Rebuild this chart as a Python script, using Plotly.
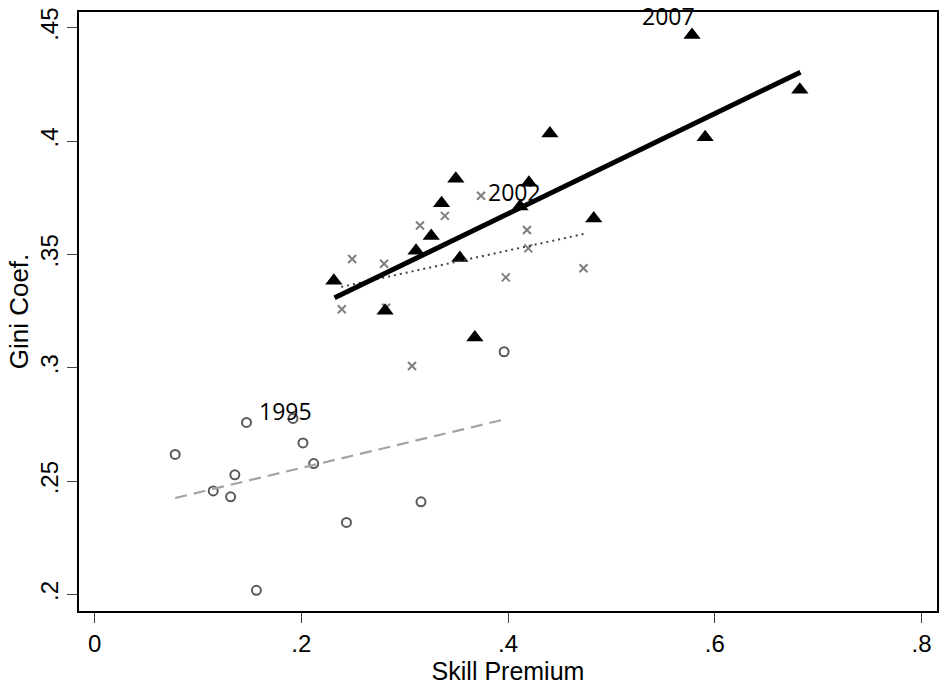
import plotly.graph_objects as go

# 1995 group (hollow circles)
x1995 = [0.078, 0.147, 0.192, 0.2016, 0.212, 0.1357, 0.1148, 0.1316, 0.2437, 0.3158, 0.1566, 0.3962]
y1995 = [0.2618, 0.2759, 0.2777, 0.2669, 0.2578, 0.2528, 0.2457, 0.2431, 0.2318, 0.2409, 0.2019, 0.3071]

# 2002 group (crosses)
x2002 = [0.2492, 0.2801, 0.2392, 0.2820, 0.3148, 0.3389, 0.3739, 0.4183, 0.4196, 0.3978, 0.4730, 0.3071]
y2002 = [0.3480, 0.3459, 0.3258, 0.3265, 0.3628, 0.3670, 0.3759, 0.3608, 0.3527, 0.3399, 0.3439, 0.3008]

# 2007 group (filled triangles)
x2007 = [0.2315, 0.2811, 0.3110, 0.3257, 0.3357, 0.3495, 0.3534, 0.3679, 0.4116, 0.4202, 0.4405, 0.4829, 0.5780, 0.5907, 0.6823]
y2007 = [0.3384, 0.3252, 0.3516, 0.3581, 0.3726, 0.3834, 0.3484, 0.3134, 0.3711, 0.3816, 0.4034, 0.3659, 0.4468, 0.4017, 0.4226]

# Linear fit endpoints
fit1995_x = [0.078, 0.3962]
fit1995_y = [0.2426, 0.2772]
fit2002_x = [0.2386, 0.4730]
fit2002_y = [0.3357, 0.3590]
fit2007_x = [0.2322, 0.6829]
fit2007_y = [0.3309, 0.4304]

# Year labels
label_text = ["1995", "2002", "2007"]
label_x = [0.1567, 0.3785, 0.5280]
label_y = [0.2809, 0.3774, 0.4553]

xtick_vals = [0, 0.2, 0.4, 0.6, 0.8]
xtick_text = ["0", ".2", ".4", ".6", ".8"]
ytick_vals = [0.2, 0.25, 0.3, 0.35, 0.4, 0.45]
ytick_text = [".2", ".25", ".3", ".35", ".4", ".45"]

fig = go.Figure()

fig.add_trace(go.Scatter(
    x=x1995, y=y1995, mode="markers", name="1995",
    marker=dict(symbol="circle-open", size=9, color="#5a5a5a", line=dict(width=2, color="#5a5a5a")),
))
fig.add_trace(go.Scatter(
    x=x2002, y=y2002, mode="markers", name="2002",
    marker=dict(symbol="x-thin-open", size=8, color="#7f7f7f", line=dict(width=2, color="#7f7f7f")),
))
fig.add_trace(go.Scatter(
    x=x2007, y=y2007, mode="markers", name="2007",
    marker=dict(symbol="triangle-up", size=15, color="#000000"),
))
fig.add_trace(go.Scatter(
    x=fit1995_x, y=fit1995_y, mode="lines", name="fit 1995",
    line=dict(color="#a3a3a3", width=2.2, dash="12px,7px"),
))
fig.add_trace(go.Scatter(
    x=fit2002_x, y=fit2002_y, mode="lines", name="fit 2002",
    line=dict(color="#404040", width=2, dash="2px,4px"),
))
fig.add_trace(go.Scatter(
    x=fit2007_x, y=fit2007_y, mode="lines", name="fit 2007",
    line=dict(color="#000000", width=5),
))

for t, xx, yy in zip(label_text, label_x, label_y):
    fig.add_annotation(
        x=xx, y=yy, text=t, showarrow=False, xanchor="left", yanchor="middle",
        font=dict(family="Open Sans", size=23, color="#000000"),
    )

axis_common = dict(
    showline=True, linecolor="#000000", linewidth=1.5, mirror=True,
    showgrid=False, zeroline=False,
    ticks="outside", ticklen=10, tickwidth=1.3, tickcolor="#444444",
    tickfont=dict(family="Liberation Sans", size=24, color="#000000"),
)

fig.update_layout(
    width=942, height=685,
    margin=dict(l=79, r=3, t=12, b=74),
    paper_bgcolor="#ffffff", plot_bgcolor="#ffffff",
    showlegend=False,
    xaxis=dict(
        range=[-0.01505, 0.815], tickvals=xtick_vals, ticktext=xtick_text,
        title=dict(text="Skill Premium", standoff=0,
                   font=dict(family="Liberation Sans", size=25, color="#000000")),
        **axis_common,
    ),
    yaxis=dict(
        range=[0.19276, 0.45693], tickvals=ytick_vals, ticktext=ytick_text, tickangle=-90,
        title=dict(text="Gini Coef.", standoff=0,
                   font=dict(family="Liberation Sans", size=26, color="#000000")),
        **axis_common,
    ),
)

fig.write_html("out.html")
